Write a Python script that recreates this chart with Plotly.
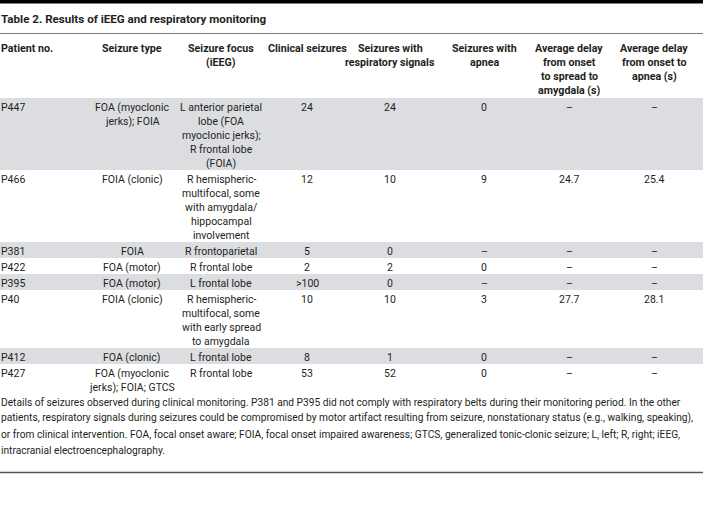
import plotly.graph_objects as go

# ---- data ----
title = "Table 2. Results of iEEG and respiratory monitoring"
headers = ["Patient no.", "Seizure type", "Seizure focus<br>(iEEG)", "Clinical seizures",
           "Seizures with<br>respiratory signals", "Seizures with<br>apnea",
           "Average delay<br>from onset<br>to spread to<br>amygdala (s)",
           "Average delay<br>from onset to<br>apnea (s)"]
patients = ["P447", "P466", "P381", "P422", "P395", "P40", "P412", "P427"]
seizure_type = ["FOA (myoclonic<br>jerks); FOIA", "FOIA (clonic)", "FOIA", "FOA (motor)",
                "FOA (motor)", "FOIA (clonic)", "FOA (clonic)", "FOA (myoclonic<br>jerks); FOIA; GTCS"]
seizure_focus = ["L anterior parietal<br>lobe (FOA<br>myoclonic jerks);<br>R frontal lobe<br>(FOIA)",
                 "R hemispheric-<br>multifocal, some<br>with amygdala/<br>hippocampal<br>involvement",
                 "R frontoparietal", "R frontal lobe", "L frontal lobe",
                 "R hemispheric-<br>multifocal, some<br>with early spread<br>to amygdala",
                 "L frontal lobe", "R frontal lobe"]
clinical_seizures = ["24", "12", "5", "2", ">100", "10", "8", "53"]
resp_signals = ["24", "10", "0", "2", "0", "10", "1", "52"]
with_apnea = ["0", "9", "–", "0", "–", "3", "0", "0"]
delay_amygdala = ["–", "24.7", "–", "–", "–", "27.7", "–", "–"]
delay_apnea = ["–", "25.4", "–", "–", "–", "28.1", "–", "–"]
footnote_lines = [
    "Details of seizures observed during clinical monitoring. P381 and P395 did not comply with respiratory belts during their monitoring period. In the other",
    "patients, respiratory signals during seizures could be compromised by motor artifact resulting from seizure, nonstationary status (e.g., walking, speaking),",
    "or from clinical intervention. FOA, focal onset aware; FOIA, focal onset impaired awareness; GTCS, generalized tonic-clonic seizure; L, left; R, right; iEEG,",
    "intracranial electroencephalography.",
]

# ---- layout / style ----
W, H = 703, 523
FONT = "Roboto, Liberation Sans, sans-serif"
col_x = [0, 132, 221, 307, 390, 484, 569, 654]
LINE = 14
TABLE_TOP = 98
GRAY = "#dcdde0"
TXT = "#231f20"

columns = [patients, seizure_type, seizure_focus, clinical_seizures, resp_signals,
           with_apnea, delay_amygdala, delay_apnea]

fig = go.Figure()
shapes = []
annotations = []


def add_text(x, y, text, bold=False, size=10.5, left=False):
    annotations.append(dict(
        x=x, y=y, xref="x", yref="y", text=("<b>%s</b>" % text) if bold else text,
        showarrow=False, xanchor="left" if left else "center", yanchor="middle",
        align="left" if left else "center", borderpad=0,
        font=dict(family=FONT, size=size, color=TXT)))


# top rule, title, header rule
shapes.append(dict(type="rect", x0=0, x1=W, y0=0, y1=3.5, fillcolor="#000", line_width=0, layer="below"))
add_text(0, 19, title, bold=True, size=11.6, left=True)
shapes.append(dict(type="line", x0=0, x1=W, y0=33.5, y1=33.5, line=dict(color="#7a7a7a", width=1.2)))

# headers
for ci, h in enumerate(headers):
    for li, part in enumerate(h.split("<br>")):
        add_text(col_x[ci], 48.5 + LINE * li, part, bold=True, size=10.7, left=(ci == 0))

# rows
y = TABLE_TOP
for ri in range(len(patients)):
    nlines = max(len(col[ri].split("<br>")) for col in columns)
    h = nlines * LINE + 2
    if ri % 2 == 0:
        shapes.append(dict(type="rect", x0=0, x1=W, y0=y, y1=y + h, fillcolor=GRAY,
                           line_width=0, layer="below"))
    for ci, col in enumerate(columns):
        for li, part in enumerate(col[ri].split("<br>")):
            add_text(col_x[ci], y + 9 + LINE * li, part, left=(ci == 0))
    y += h

# footnote
for li, line in enumerate(footnote_lines):
    add_text(0, 402 + 16 * li, line, size=10.2, left=True)

shapes.append(dict(type="line", x0=0, x1=W, y0=472.5, y1=472.5, line=dict(color="#555", width=1.5)))

fig.update_layout(
    width=W, height=H, margin=dict(l=0, r=0, t=0, b=0, pad=0),
    paper_bgcolor="white", plot_bgcolor="white",
    xaxis=dict(range=[0, W], visible=False, fixedrange=True),
    yaxis=dict(range=[H, 0], visible=False, fixedrange=True),
    shapes=shapes, annotations=annotations, showlegend=False,
)
fig.write_html("out.html", config={"displayModeBar": False},
               post_script="document.body.style.margin='0';document.body.style.padding='0';")
